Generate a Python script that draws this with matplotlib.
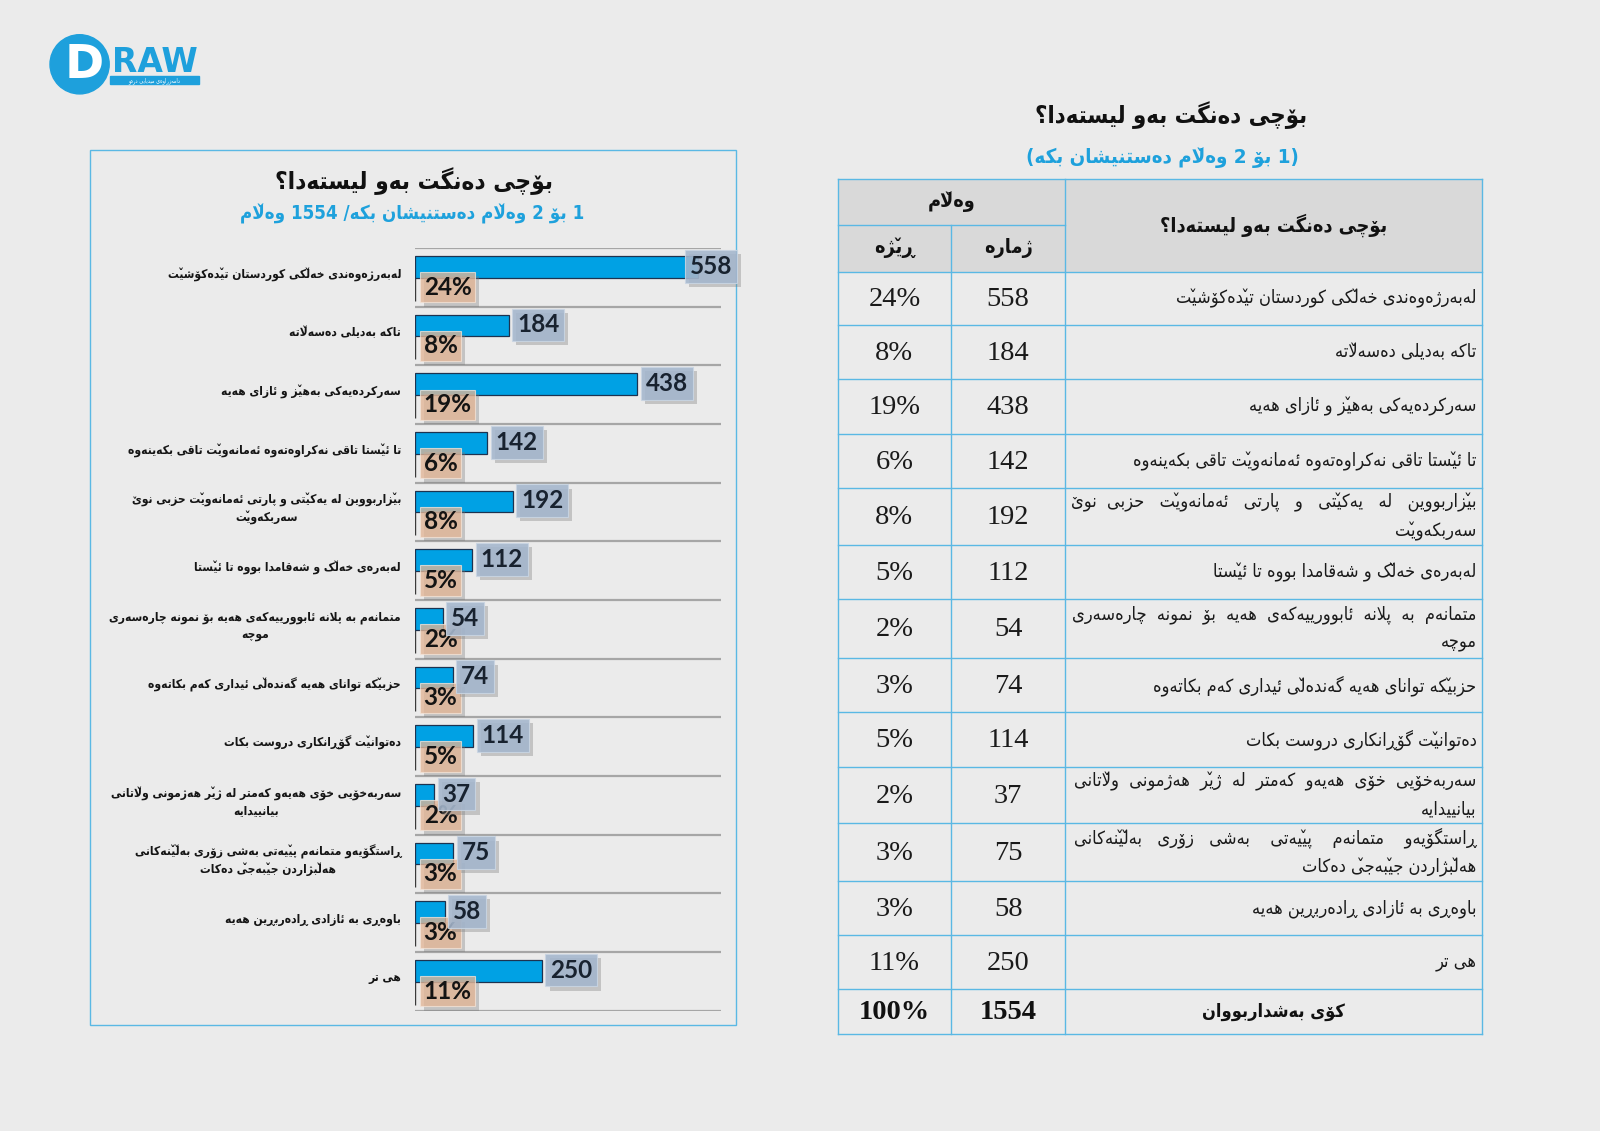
import matplotlib
matplotlib.use("Agg")
import matplotlib.pyplot as plt
from matplotlib.patches import Rectangle, Circle
from matplotlib.font_manager import FontProperties
from matplotlib import font_manager
import matplotlib.patheffects as pe

# ------------------------------------------------------------------ data
title = "بۆچی دەنگت بەو لیستەدا؟"
subtitle_left = "1 بۆ 2 وەڵام دەستنیشان بکە/ 1554 وەڵام"
subtitle_right = "(1 بۆ 2 وەڵام دەستنیشان بکە)"
hdr_answer = "وەڵام"
hdr_count = "ژمارە"
hdr_pct = "ڕێژە"
total_label = "کۆی بەشداربووان"
logo_word = "RAW"
logo_sub = "دامەزراوەی میدیایی درەو"

reasons = [
    "لەبەرژەوەندی خەڵکی کوردستان تێدەکۆشێت",
    "تاکە بەدیلی دەسەڵاتە",
    "سەرکردەیەکی بەهێز و ئازای هەیە",
    "تا ئێستا تاقی نەکراوەتەوە ئەمانەوێت تاقی بکەینەوە",
    "بێزاربووین لە یەکێتی و پارتی ئەمانەوێت حزبی نوێ\nسەربکەوێت",
    "لەبەرەی خەڵک و شەقامدا بووە تا ئێستا",
    "متمانەم بە پلانە ئابوورییەکەی هەیە بۆ نمونە چارەسەری\nموچە",
    "حزبێکە توانای هەیە گەندەڵی ئیداری کەم بکاتەوە",
    "دەتوانێت گۆڕانکاری دروست بکات",
    "سەربەخۆیی خۆی هەیەو کەمتر لە ژێر هەژمونی وڵاتانی\nبیانییدایە",
    "ڕاستگۆیەو متمانەم پێیەتی بەشی زۆری بەڵێنەکانی\nهەڵبژاردن جێبەجێ دەکات",
    "باوەڕی بە ئازادی ڕادەربڕین هەیە",
    "هی تر",
]
counts = [558, 184, 438, 142, 192, 112, 54, 74, 114, 37, 75, 58, 250]
percents = [24, 8, 19, 6, 8, 5, 2, 3, 5, 2, 3, 3, 11]
total_count = 1554
total_percent = 100

# ------------------------------------------------- Arabic-script shaping
_tab = [(0x0621, 0xFE80, 1), (0x0622, 0xFE81, 2), (0x0623, 0xFE83, 2), (0x0624, 0xFE85, 2),
        (0x0625, 0xFE87, 2), (0x0626, 0xFE89, 4), (0x0627, 0xFE8D, 2), (0x0628, 0xFE8F, 4),
        (0x0629, 0xFE93, 2), (0x062A, 0xFE95, 4), (0x062B, 0xFE99, 4), (0x062C, 0xFE9D, 4),
        (0x062D, 0xFEA1, 4), (0x062E, 0xFEA5, 4), (0x062F, 0xFEA9, 2), (0x0630, 0xFEAB, 2),
        (0x0631, 0xFEAD, 2), (0x0632, 0xFEAF, 2), (0x0633, 0xFEB1, 4), (0x0634, 0xFEB5, 4),
        (0x0635, 0xFEB9, 4), (0x0636, 0xFEBD, 4), (0x0637, 0xFEC1, 4), (0x0638, 0xFEC5, 4),
        (0x0639, 0xFEC9, 4), (0x063A, 0xFECD, 4), (0x0641, 0xFED1, 4), (0x0642, 0xFED5, 4),
        (0x0643, 0xFED9, 4), (0x0644, 0xFEDD, 4), (0x0645, 0xFEE1, 4), (0x0646, 0xFEE5, 4),
        (0x0647, 0xFEE9, 4), (0x0648, 0xFEED, 2), (0x0649, 0xFEEF, 2), (0x064A, 0xFEF1, 4),
        (0x067E, 0xFB56, 4), (0x0686, 0xFB7A, 4), (0x0698, 0xFB8A, 2), (0x06A9, 0xFB8E, 4),
        (0x06AF, 0xFB92, 4), (0x06C6, 0xFBD9, 2), (0x06CC, 0xFBFC, 4), (0x06BE, 0xFBAA, 4),
        (0x06A4, 0xFB6A, 4)]
FORMS = {}
for b, s, n in _tab:
    t = {1: 'N', 2: 'R', 4: 'D'}[n]
    FORMS[chr(b)] = (t, tuple(chr(s + i) for i in range(n)))
VMARK = '\u030C'   # zero-width v mark drawn over the preceding glyph
FORMS['\u06D5'] = ('R', ('\u06D5', '\uFEEA'))
FORMS['\u0695'] = ('R', ('\u0695', '\u0695'))
FORMS['\u06B5'] = ('D', ('\u06B5', '\uFEDE' + VMARK, '\uFEDF' + VMARK, '\uFEE0' + VMARK))
FORMS['\u06CE'] = ('D', ('\u06CE', '\uFBFD' + VMARK, '\uFBFE' + VMARK, '\uFBFF' + VMARK))
ALEFS = {'\u0627': ('\uFEFB', '\uFEFC'), '\u0623': ('\uFEF7', '\uFEF8'),
         '\u0625': ('\uFEF9', '\uFEFA'), '\u0622': ('\uFEF5', '\uFEF6')}
MIRROR = {'(': ')', ')': '('}


def jtype(c):
    if c in FORMS:
        return FORMS[c][0]
    if '\u064B' <= c <= '\u065F' or c == '\u0670':
        return 'T'
    return 'U'


def clusters(line):
    ch = list(line)
    n = len(ch)
    out = []
    i = 0
    while i < n:
        c = ch[i]
        t = jtype(c)
        if t == 'T':
            if out:
                out[-1] += c
            else:
                out.append(c)
            i += 1
            continue
        if t == 'U':
            out.append(c)
            i += 1
            continue
        j = i - 1
        while j >= 0 and jtype(ch[j]) == 'T':
            j -= 1
        jp = j >= 0 and jtype(ch[j]) == 'D' and t in 'DR'
        k = i + 1
        while k < n and jtype(ch[k]) == 'T':
            k += 1
        nx = ch[k] if k < n else None
        if c in ('\u0644', '\u06B5') and nx in ALEFS:
            g = ALEFS[nx][1 if jp else 0]
            if c == '\u06B5':
                g += VMARK
            out.append(g)
            i = k + 1
            continue
        jn = nx is not None and t == 'D' and jtype(nx) in 'DR'
        f = FORMS[c][1]
        if t == 'N':
            g = f[0]
        elif t == 'R':
            g = f[1] if jp else f[0]
        else:
            g = f[[0, 2, 1, 3][jp * 2 + jn]]
        out.append(g)
        i += 1
    return out


def is_ltr(cl):
    c = cl[0]
    return c.isascii() and (c.isalnum() or c in '%.')


def rtl(text):
    """Right-to-left line: shaped glyphs in visual (drawing) order."""
    res = []
    for line in text.split('\n'):
        runs = []
        for cl in clusters(line):
            l = is_ltr(cl)
            if l and runs and runs[-1][0]:
                runs[-1][1].append(cl)
            else:
                runs.append([l, [cl]])
        parts = []
        for l, items in reversed(runs):
            parts.append(''.join(items) if l else ''.join(MIRROR.get(x, x) for x in items))
        res.append(''.join(parts))
    return '\n'.join(res)


# ------------------------------------------------------------------ fonts
def ar_font(weight):
    try:
        fp = FontProperties(family='DejaVu Sans', stretch='condensed', weight=weight)
        path = font_manager.findfont(fp, fallback_to_default=True)
        if 'Condensed' in path:
            return FontProperties(fname=path)
    except Exception:
        pass
    return FontProperties(family='DejaVu Sans', weight=weight)


AR_N = ar_font('normal')
AR_B = ar_font('bold')

# ------------------------------------------------------------------ figure
W, H = 1568.0, 1108.0          # layout grid (same aspect as the output)
PX = 1600.0 / W                # grid unit -> output pixel
BG = '#ebebeb'
BLUE_TXT = '#1ea1dc'
LINE_BLUE = '#5ab8e4'

fig = plt.figure(figsize=(16, 11.31), dpi=100, facecolor=BG)
renderer = fig.canvas.get_renderer()
ov = fig.add_axes([0, 0, 1, 1], zorder=0)
ov.set_xlim(0, W)
ov.set_ylim(H, 0)
ov.axis('off')
ov.set_facecolor(BG)


def fsize(fp, size):
    f = fp.copy()
    f.set_size(size)
    return f


def width_px(s, size, fp):
    w, h, d = renderer.get_text_width_height_descent(s, fsize(fp, size), ismath=False)
    return w


def fit(s, target, fp):
    return 10.0 * target * PX / width_px(s, 10, fp)


# ------------------------------------------------------------------ logo
LOGO_FP = FontProperties(family='DejaVu Sans', weight='bold')
ov.add_patch(Circle((78, 63), 29, color='#1ea0dc', zorder=2))
ov.text(83, 64.5, 'D', color='white', fontproperties=fsize(LOGO_FP, 34), ha='center',
        va='center', zorder=3)
ov.text(110, 71, logo_word, color='#1ea0dc', fontproperties=fsize(LOGO_FP, fit(logo_word, 84, LOGO_FP)),
        ha='left', va='baseline', zorder=3)
ov.add_patch(Rectangle((108, 74.5), 87, 8, color='#1ea0dc', zorder=2))
ov.text(151.5, 78.5, rtl(logo_sub), color='white', fontproperties=fsize(AR_N, 4.0),
        ha='center', va='center', zorder=3)

# ------------------------------------------------------------------ left panel
ov.add_patch(Rectangle((88, 147), 633, 857, fill=False, ec=LINE_BLUE, lw=1.0, zorder=1))
t_vis = rtl(title)
ov.text(406, 177, t_vis, fontproperties=fsize(AR_B, fit(t_vis, 273, AR_B)),
        ha='center', va='center', color='#111111')
s_vis = rtl(subtitle_left)
ov.text(404, 210, s_vis, fontproperties=fsize(AR_B, fit(s_vis, 337, AR_B)),
        ha='center', va='center', color=BLUE_TXT)

# bar chart
x0, x1, y0, y1 = 407.0, 707.0, 243.0, 990.0
ax = fig.add_axes([x0 / W, 1 - y1 / H, (x1 - x0) / W, (y1 - y0) / H], zorder=2)
ax.set_facecolor('none')
XMAX = 604.0
nrow = len(counts)
ax.set_xlim(0, XMAX)
ax.set_ylim(nrow, 0)
ax.axis('off')
rows = list(range(nrow))
ax.hlines(list(range(nrow + 1)), 0, XMAX, color='#a6a6a6', lw=1.6, zorder=1)
ax.vlines([0] * nrow, [r + 0.5 for r in rows], [r + 0.9 for r in rows], color='#3a3a3a', lw=1.0,
          zorder=1)
ax.barh([r + 0.32 for r in rows], counts, height=0.37, color='#00a1e4', edgecolor='#1d3350',
        linewidth=0.9, zorder=2)

shadow = [pe.SimplePatchShadow(offset=(3, -3), shadow_rgbFace='#7a7a7a', alpha=0.35), pe.Normal()]
lab_cap = XMAX * 0.87
NUM_FP = FontProperties(family='Lato', weight='bold', size=17.5)
for r, v, p in zip(rows, counts, percents):
    t = ax.annotate(str(v), xy=(min(v, lab_cap), r + 0.31), xytext=(6.0, 0),
                    textcoords='offset points', ha='left', va='center', fontproperties=NUM_FP,
                    color='#18222f', zorder=5,
                    bbox=dict(boxstyle='square,pad=0.2', fc='#a4b6cd', ec='#c9d5e3', lw=0.8,
                              alpha=0.88))
    t.get_bbox_patch().set_path_effects(shadow)
    t2 = ax.annotate(f"{p}%", xy=(0, r + 0.67), xytext=(6.0, 0), textcoords='offset points',
                     ha='left', va='center', fontproperties=NUM_FP, color='#141414', zorder=4,
                     bbox=dict(boxstyle='square,pad=0.15', fc='#e2b596', ec='#f3e3d6', lw=0.8,
                               alpha=0.78))
    t2.get_bbox_patch().set_path_effects(shadow)

lab_vis = [rtl(s) for s in reasons]
LAB_FP = fsize(AR_B, fit(lab_vis[0], 230, AR_B))
for r, s in zip(rows, lab_vis):
    ax.annotate(s, xy=(0, r + 0.44), xytext=(-14 * PX * 0.72, 0), textcoords='offset points',
                ha='right', va='center', multialignment='center', fontproperties=LAB_FP,
                color='#151515', linespacing=1.4, annotation_clip=False)

# ------------------------------------------------------------------ right table
t_vis2 = rtl(title)
ov.text(1148, 113, t_vis2, fontproperties=fsize(AR_B, fit(t_vis2, 267, AR_B)),
        ha='center', va='center', color='#111111')
s_vis2 = rtl(subtitle_right)
ov.text(1139, 155, s_vis2, fontproperties=fsize(AR_B, fit(s_vis2, 267, AR_B)),
        ha='center', va='center', color=BLUE_TXT)

cx = [821, 932, 1044, 1452]
hy = [175, 220, 266]
ry = [266, 318.5, 371.4, 425.3, 478.2, 534, 587, 644.8, 697.8, 751.7, 806.5, 863.4, 916.3,
      969.2, 1013.3]
ov.add_patch(Rectangle((cx[0], hy[0]), cx[3] - cx[0], hy[2] - hy[0], fc='#d9d9d9', ec='none',
                       zorder=1))
lw_t = 1.0
for y in ry:
    ov.plot([cx[0], cx[3]], [y, y], color=LINE_BLUE, lw=lw_t, zorder=2)
ov.plot([cx[0], cx[3]], [hy[0], hy[0]], color=LINE_BLUE, lw=lw_t, zorder=2)
ov.plot([cx[0], cx[2]], [hy[1], hy[1]], color=LINE_BLUE, lw=lw_t, zorder=2)
ov.plot([cx[0], cx[0]], [hy[0], ry[-1]], color=LINE_BLUE, lw=lw_t, zorder=2)
ov.plot([cx[3], cx[3]], [hy[0], ry[-1]], color=LINE_BLUE, lw=lw_t, zorder=2)
ov.plot([cx[1], cx[1]], [hy[1], ry[-1]], color=LINE_BLUE, lw=lw_t, zorder=2)
ov.plot([cx[2], cx[2]], [hy[0], ry[-1]], color=LINE_BLUE, lw=lw_t, zorder=2)

HDR_FP = fsize(AR_B, fit(rtl(hdr_answer), 47, AR_B))
ov.text((cx[0] + cx[2]) / 2, (hy[0] + hy[1]) / 2, rtl(hdr_answer), fontproperties=HDR_FP,
        ha='center', va='center', color='#111111', zorder=3)
ov.text((cx[1] + cx[2]) / 2, (hy[1] + hy[2]) / 2, rtl(hdr_count), fontproperties=HDR_FP,
        ha='center', va='center', color='#111111', zorder=3)
ov.text((cx[0] + cx[1]) / 2, (hy[1] + hy[2]) / 2, rtl(hdr_pct), fontproperties=HDR_FP,
        ha='center', va='center', color='#111111', zorder=3)
ov.text((cx[2] + cx[3]) / 2, (hy[0] + hy[2]) / 2, rtl(title), fontproperties=HDR_FP,
        ha='center', va='center', color='#111111', zorder=3)

tab_size = fit(rtl(reasons[0]), 295, AR_N)
TAB_FP = fsize(AR_N, tab_size)
TAB_FPB = fsize(AR_B, tab_size)
TNUM = FontProperties(family='Liberation Serif', size=20.5)
TNUMB = FontProperties(family='Liberation Serif', weight='bold', size=20.5)
just_w = (1447 - 1050) * PX


def justify(line):
    words = line.split(' ')
    gaps = [1] * (len(words) - 1)
    k = 0
    s = line
    for _ in range(300):
        s = ''.join(w + ' ' * g for w, g in zip(words, gaps + [0]))
        if not gaps or width_px(rtl(s), tab_size, AR_N) >= just_w - 4:
            return s
        gaps[k % len(gaps)] += 1
        k += 1
    return s


for r, s, v, p in zip(rows, reasons, counts, percents):
    yc = (ry[r] + ry[r + 1]) / 2
    lines = s.split('\n')
    if len(lines) > 1:
        lines = [justify(l) for l in lines[:-1]] + [lines[-1]]
    ov.text(1447, yc, rtl('\n'.join(lines)), fontproperties=TAB_FP, ha='right',
            va='center', multialignment='right', color='#1a1a1a', linespacing=1.7, zorder=3)
    ov.text((cx[1] + cx[2]) / 2, yc + 1, str(v), fontproperties=TNUM,
            ha='center', va='center', color='#1a1a1a', zorder=3)
    ov.text((cx[0] + cx[1]) / 2, yc + 1, f"{p}%", fontproperties=TNUM,
            ha='center', va='center', color='#1a1a1a', zorder=3)

yc = (ry[-2] + ry[-1]) / 2
ov.text((cx[2] + cx[3]) / 2, yc, rtl(total_label), fontproperties=TAB_FPB,
        ha='center', va='center', color='#111111', zorder=3)
ov.text((cx[1] + cx[2]) / 2, yc + 1, str(total_count), fontproperties=TNUMB,
        ha='center', va='center', color='#111111', zorder=3)
ov.text((cx[0] + cx[1]) / 2, yc + 1, f"{total_percent}%", fontproperties=TNUMB,
        ha='center', va='center', color='#111111', zorder=3)

fig.savefig("out.png", dpi=100, facecolor=BG)
